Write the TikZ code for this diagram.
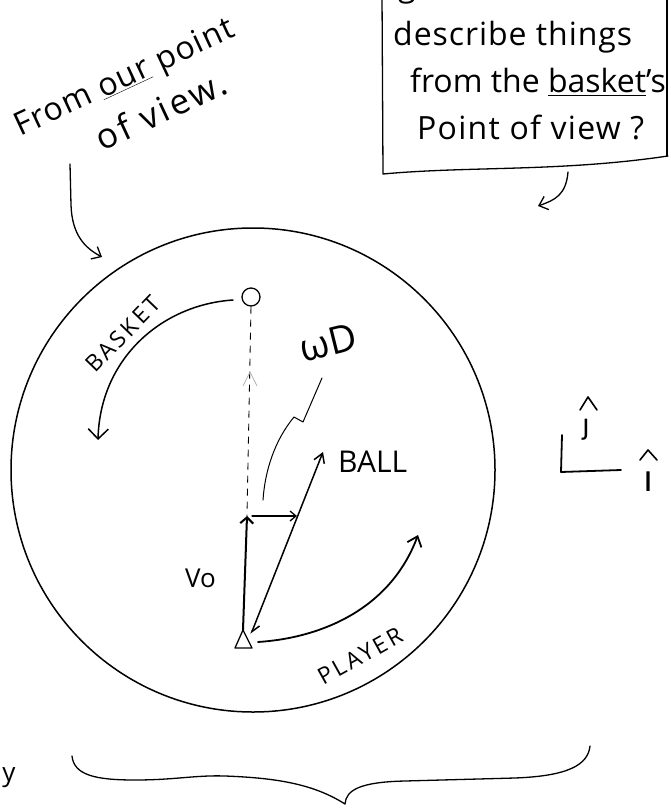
\documentclass[tikz,border=0pt]{standalone}
\usepackage{fontspec}
\setmainfont{Open Sans}
\newfontfamily\dv{DejaVu Sans}
\usetikzlibrary{arrows.meta}
\begin{document}
\begin{tikzpicture}[x=1pt,y=-1pt,
  ink/.style={line width=1.3pt, line cap=round, line join=round},
  barb/.style={-{Straight Barb[length=8pt,width=14pt]}},
  big/.style={font=\fontsize{32}{36}\selectfont, inner sep=0pt},
  caps/.style={font=\fontsize{23}{26}\selectfont\addfontfeature{LetterSpace=12}, inner sep=0pt},
]
\useasboundingbox (0,0) rectangle (670,810);

% ---------- top-left remark ----------
\node[big, font=\fontsize{32}{36}\selectfont\addfontfeature{LetterSpace=4}, anchor=base west, rotate=25] (from) at (20,137) {From \underline{our} point};
\node[big, font=\fontsize{35}{38}\selectfont\addfontfeature{LetterSpace=9}, anchor=base west, rotate=25] (ofview) at (102,152) {of view.};
\coordinate (fromtail) at (70,164);
\coordinate (fromtip) at (102,257);
\draw[ink, barb] (fromtail) -- (71,205) .. controls (72,235) and (85,248) .. (fromtip);

% ---------- top-right box ----------
\node[big, anchor=base west] (g) at (398,-3) {g};
\node[big, font=\fontsize{32}{36}\selectfont\addfontfeature{LetterSpace=3}, anchor=base west] (l1) at (393,46) {describe things};
\node[big, anchor=base west] (l2) at (410,93) {from the \underline{basket}'s};
\node[big, font=\fontsize{32}{36}\selectfont\addfontfeature{LetterSpace=4}, anchor=base west] (l3) at (417,140) {Point of view ?};
\draw[ink] (382,-5) -- (383,174) .. controls (470,166) and (560,172) .. (668,156);
\draw[ink] (667,-5) -- (667,156);
\coordinate (boxtail) at (568,172);
\coordinate (boxtip) at (538,206);
\draw[ink, barb] (boxtail) .. controls (566,195) and (555,200) .. (boxtip);

% ---------- the big circle ----------
\draw[ink, line width=1.5pt] (253,470) circle (242);

% basket and player
\node[circle, draw, line width=1.3pt, minimum size=18pt, inner sep=0pt] (basket) at (251,297) {};
\coordinate (player) at (243,640);
\draw[ink] (235,648) -- (252,648) -- (243,630) -- cycle;

% dashed line basket -> centre
\coordinate (mid) at (247,516);
\draw[line width=0.9pt, dash pattern=on 7pt off 6pt] (basket.south) -- (mid);
\draw[gray!60, line width=0.8pt] (243,386) -- (250,372) -- (257,386);

% V0
\draw[line width=2pt, line cap=round, -{Straight Barb[length=6pt,width=13pt]}] (243,630) -- (mid);
\node[font=\fontsize{26}{30}\selectfont, inner sep=0pt, anchor=base west] (v0) at (185,587) {Vo};

% small sideways arrow
\coordinate (side) at (297,516);
\draw[ink, -{Straight Barb[length=6pt,width=10pt]}] (252,516) -- (side);

% ball vector
\coordinate (ballend) at (251,634);
\coordinate (balltip) at (323,452);
\draw[line width=1.5pt, line cap=round, {Straight Barb[left,length=8pt,width=10pt]}-{Straight Barb[length=9pt,width=11pt]}] (ballend) -- (balltip);
\node[font=\fontsize{30}{34}\selectfont, inner sep=0pt, anchor=base west] (balllbl) at (338,472) {BALL};

% omega D and its leader
\node[font=\fontsize{38}{40}\selectfont, rotate=14, inner sep=0pt] (omegad) at (328,343) {ωD};
\draw[ink, line width=1pt] (322,378) -- (303,422) -- (294,417) .. controls (275,440) and (265,470) .. (263,500);

% basket motion
\draw[line width=1.5pt, line cap=round, -{Straight Barb[length=10pt,width=20pt]}] (233,300) .. controls (160,305) and (100,360) .. (98,440);
\node[caps, rotate=46] (basketlbl) at (123,334) {BASKET};

% player motion
\draw[line width=1.8pt, line cap=round, -{Straight Barb[length=9pt,width=15pt]}] (258,642) .. controls (320,638) and (390,610) .. (418,535);
\node[caps, rotate=29] (playerlbl) at (360,656) {PLAYER};

% ---------- unit vectors ----------
\draw[line width=1.8pt, line cap=round, line join=round] (562,435) -- (561,472) -- (621,470);
\draw[ink, line width=1.6pt] (580,410) -- (588,397) -- (597,410);
\node[font=\dv\fontsize{28}{30}\selectfont, inner sep=0pt] (jhat) at (586,430) {ȷ};
\draw[ink, line width=1.6pt] (640,460) -- (648,450) -- (657,460);
\node[font=\dv\fontsize{36}{38}\selectfont, inner sep=0pt] (ihat) at (648,481) {ı};

% ---------- bottom ----------
\node[font=\fontsize{26}{30}\selectfont, inner sep=0pt, anchor=base] (ylbl) at (9,781) {y};
\draw[ink] (72,756) .. controls (74,775) and (95,780) .. (135,780)
  .. controls (175,780) and (195,775) .. (225,776)
  .. controls (280,778) and (315,785) .. (345,804)
  .. controls (346,790) and (360,782) .. (405,781)
  -- (515,778) .. controls (568,776) and (588,765) .. (590,746);
\end{tikzpicture}
\end{document}
